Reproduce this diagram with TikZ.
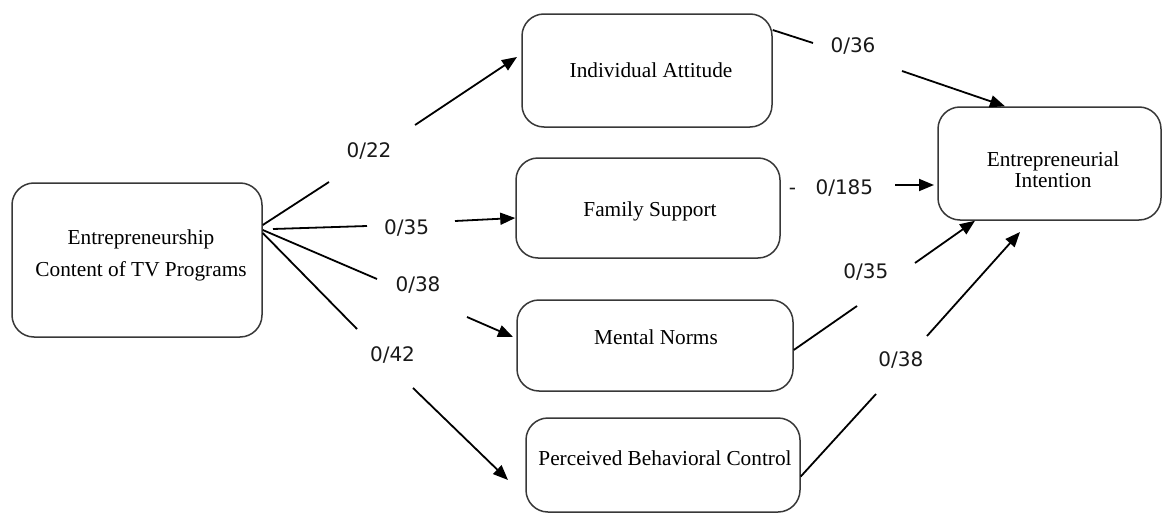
\documentclass[tikz,border=0pt]{standalone}
\usepackage{fontspec}
\setmainfont{Liberation Serif}
\newfontfamily\labfont{DejaVu Sans}
\usetikzlibrary{arrows.meta}
\begin{document}
\begin{tikzpicture}[x=1pt,y=-1pt,
  box/.style={draw=black!78, line width=1.5pt, rounded corners=22pt, inner sep=0pt},
  boxtext/.style={font=\fontsize{21.3}{32}\selectfont, inner sep=0pt, align=center},
  lab/.style={font=\labfont\fontsize{20}{24}\selectfont, inner sep=0pt, text=black!90},
  conn/.style={line width=1.8pt, black},
  arr/.style={conn, -{Triangle[length=15pt,width=12pt]}}]
\useasboundingbox (0,0) rectangle (1163,514);

% boxes
\node[box, minimum width=250pt, minimum height=154pt] (ent) at (137,260) {};
\node[box, minimum width=250pt, minimum height=113pt] (ia) at (647,70.5) {};
\node[box, minimum width=264pt, minimum height=100pt] (fs) at (648,208) {};
\node[box, minimum width=276pt, minimum height=91pt] (mn) at (655,345.5) {};
\node[box, minimum width=274pt, minimum height=94pt] (pbc) at (663,465) {};
\node[box, minimum width=223pt, minimum height=113pt] (ei) at (1049.5,163.5) {};

% box texts
\node[boxtext] (ent-t) at (141,255) {Entrepreneurship\\Content of TV Programs};
\node[boxtext, anchor=base] (ia-t) at (651,77) {Individual Attitude};
\node[boxtext, anchor=base] (fs-t) at (650,216) {Family Support};
\node[boxtext, anchor=base] (mn-t) at (656,344) {Mental Norms};
\node[boxtext, anchor=base] (pbc-t) at (665,465) {Perceived Behavioral Control};
\node[boxtext, font=\fontsize{21.3}{21}\selectfont] (ei-t) at (1053,169.3) {Entrepreneurial\\Intention};

% coefficient labels
\node[lab] (l1) at (369,151) {0/22};
\node[lab] (l2) at (406.7,227.7) {0/35};
\node[lab] (l3) at (418,285) {0/38};
\node[lab] (l4) at (392.5,355) {0/42};
\node[lab] (l5) at (853,46) {0/36};
\node[lab] (l6) at (831,187.7) {-\hspace{19.5pt}0/185};
\node[lab] (l7) at (865.8,271.8) {0/35};
\node[lab] (l8) at (900.8,359.8) {0/38};

% connector break points
\coordinate (c1a) at (329,182); \coordinate (c1b) at (415,125); \coordinate (c1t) at (517,57);
\coordinate (c2s) at (273,229); \coordinate (c2a) at (367,226); \coordinate (c2b) at (455,221);
\coordinate (c3a) at (377,279); \coordinate (c3b) at (467,317); \coordinate (c3t) at (513,337);
\coordinate (c4a) at (357,329); \coordinate (c4b) at (413,388); \coordinate (c4t) at (508,480);
\coordinate (c5a) at (813,43);  \coordinate (c5b) at (902,71);
\coordinate (c6b) at (895,185); \coordinate (c6t) at (934,185);
\coordinate (c7a) at (857,306); \coordinate (c7b) at (915,263);
\coordinate (c8a) at (876,394); \coordinate (c8b) at (927,336); \coordinate (c8t) at (1020,232);

% connectors
\draw[conn] ([yshift=35pt]ent.east) -- (c1a);
\draw[arr] (c1b) -- (c1t);
\draw[conn] (c2s) -- (c2a);
\draw[arr] (c2b) -- ([yshift=-10pt]fs.west);
\draw[conn] ([yshift=30pt]ent.east) -- (c3a);
\draw[arr] (c3b) -- (c3t);
\draw[conn] ([yshift=27pt]ent.east) -- (c4a);
\draw[arr] (c4b) -- (c4t);
\draw[conn] ([yshift=40.5pt]ia.east) -- (c5a);
\draw[arr] (c5b) -- ([xshift=-44.5pt]ei.north);
\draw[arr] (c6b) -- (c6t);
\draw[conn] ([yshift=-4.5pt]mn.east) -- (c7a);
\draw[arr] (c7b) -- ([xshift=-74.5pt]ei.south);
\draw[conn] ([yshift=-11.5pt]pbc.east) -- (c8a);
\draw[arr] (c8b) -- (c8t);
\end{tikzpicture}
\end{document}
